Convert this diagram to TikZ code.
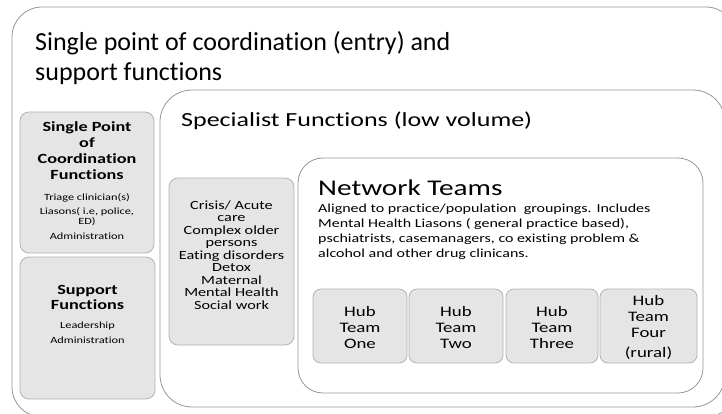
\documentclass[tikz,border=0pt]{standalone}
\usepackage{fontspec}
\setmainfont{Carlito}[Ligatures=NoCommon]
\newfontfamily\breit[FakeStretch=1.3,Ligatures=NoCommon]{Carlito}
\usetikzlibrary{positioning}
\definecolor{kastengrau}{RGB}{229,229,229}
\definecolor{randgrau}{RGB}{178,178,178}
\definecolor{liniengrau}{RGB}{150,150,150}

\begin{document}
\begin{tikzpicture}[x=1pt,y=-1pt, % Koordinaten in pt, y nach unten
    rahmen/.style={draw=liniengrau, line width=0.8pt, rounded corners=#1},
    rahmen/.default=30pt,
    kasten/.style={draw=randgrau, fill=kastengrau, line width=0.8pt, rounded corners=#1},
    kasten/.default=9pt,
    kopf/.style={anchor=north, inner sep=0, align=center, font=\breit\bfseries\fontsize{14}{16.3}\selectfont},
    klein/.style={inner sep=0, align=center, font=\breit\fontsize{9.5}{10.5}\selectfont},
    hub/.style={inner sep=0, align=center, font=\breit\fontsize{14.5}{16}\selectfont}
]

    \clip (0,0) rectangle (722,414);

    % Rahmen (aeusserer, Spezialisten, Netzwerk)
    \draw[rahmen] (12,7) rectangle (736,417);
    \draw[rahmen=32pt] (160,90) rectangle (725,407);
    \draw[rahmen=25pt] (298,158) rectangle (703,393);

    % graue Kaesten links
    \draw[kasten] (20,112) rectangle (154,253);
    \draw[kasten] (20,257) rectangle (155,399);
    \draw[kasten] (169,178) rectangle (294,345);

    % Ueberschriften
    \node[anchor=north west, inner sep=0, align=left, font=\fontsize{26}{30}\selectfont] (titel) at (35,31)
        {Single point of coordination (entry) and\\support functions};
    \node[anchor=base west, inner sep=0, font=\breit\fontsize{20}{24}\selectfont] (spezial) at (181,127)
        {Specialist Functions (low volume)};
    \node[anchor=base west, inner sep=0, font=\breit\fontsize{22.5}{26}\selectfont] (netz) at (318,196)
        {Network Teams};
    \node[anchor=north west, inner sep=0, align=left, font=\breit\fontsize{12.3}{15}\selectfont] (netztext) at (318,204)
        {Aligned to practice/population\ \ groupings. Includes\\
         Mental Health Liasons ( general practice based),\\
         pschiatrists, casemanagers, co existing problem \&\\
         alcohol and other drug clinicans.};

    % Single Point / Support
    \node[kopf] (spkopf) at (87,121) {Single Point\\of\\Coordination\\Functions};
    \node[klein, below=13pt of spkopf] (spklein)
        {Triage clinician(s)\\[3.5pt]Liasons( i.e, police,\\ED)\\[4pt]Administration};
    \node[kopf, font=\breit\bfseries\fontsize{14}{15}\selectfont] (suppkopf) at (87.5,285) {Support\\Functions};
    \node[klein, below=12pt of suppkopf] (suppklein) {Leadership\\[5pt]Administration};

    % Spezialfunktionen
    \node[inner sep=0, align=center, font=\breit\fontsize{12.5}{12.5}\selectfont] (krise) at (231.5,255)
        {Crisis/ Acute\\care\\Complex older\\persons\\Eating disorders\\Detox\\Maternal\\Mental Health\\Social work};

    % Hub-Teams
    \foreach \nr/\links/\rechts/\team in {1/313/407/One, 2/409/503/Two, 3/506/598/Three, 4/600/697/{Four\\[4pt](rural)}} {
        \draw[kasten=8pt] (\links,289) rectangle (\rechts,363);
        \node[hub] (hub\nr) at ({(\links+\rechts)/2},327.5) {Hub\\Team\\\team};
    }
\end{tikzpicture}
\end{document}
